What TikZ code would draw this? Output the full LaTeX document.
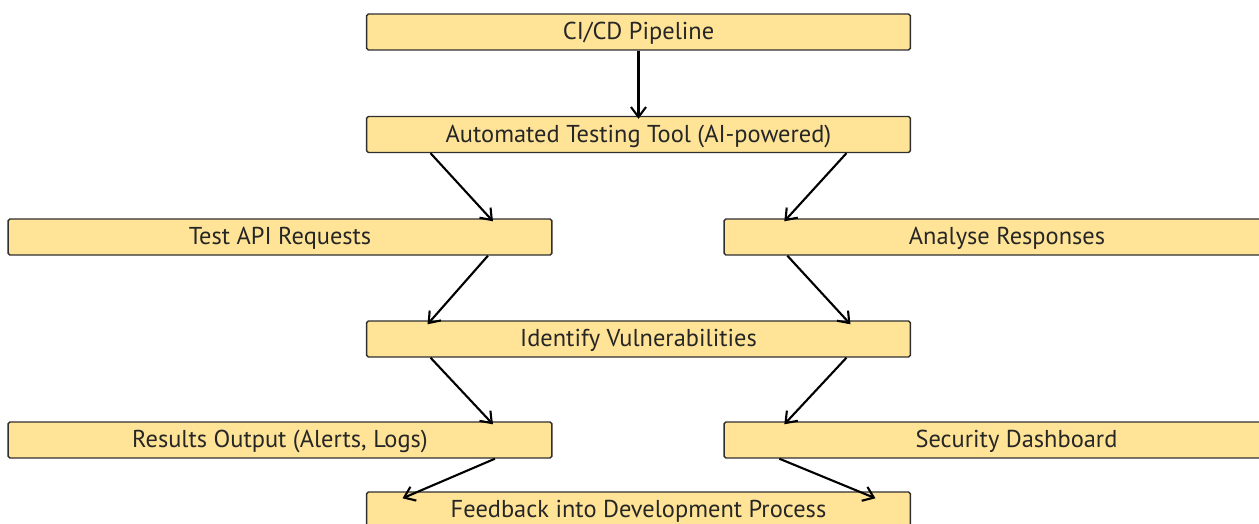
\documentclass[tikz,border=0pt]{standalone}
\usepackage{fontspec}
\setmainfont{PT Sans}
\usetikzlibrary{arrows.meta}

\definecolor{boxfill}{HTML}{FFE497}
\definecolor{boxline}{HTML}{2E2E2E}
\definecolor{boxtext}{HTML}{262626}

\tikzset{
    box/.style={draw=boxline, line width=.8pt, fill=boxfill, rounded corners=1pt,
        minimum width=10.88cm, minimum height=.72cm, inner sep=0pt,
        text height=1.8ex, text depth=0pt,
        text=boxtext, font=\fontsize{13.9}{16}\selectfont},
    arr/.style={-{Straight Barb[length=2mm,width=3mm]}, line width=1.2pt, black}
}

\begin{document}
\begin{tikzpicture}[x=.02cm, y=-.02cm]
    \useasboundingbox (0,0) rectangle (1259,524);
    \node[box] (pipe) at (638.5,32) {CI/CD Pipeline};
    \node[box] (auto) at (638.5,134.5) {Automated Testing Tool (AI-powered)};
    \node[box] (test) at (280,237) {Test API Requests};
    \node[box, minimum width=11.32cm] (ana) at (1007,237) {Analyse Responses};
    \node[box] (ident) at (638.5,339) {Identify Vulnerabilities};
    \node[box] (res) at (280,440) {Results Output (Alerts, Logs)};
    \node[box, minimum width=11.7cm] (sec) at (1016.5,440) {Security Dashboard};
    \node[box] (feed) at (638.5,510) {Feedback into Development Process};
    % connectors
    \draw[arr] (pipe.south) -- ([yshift=-.06cm]auto.north);
    \draw[arr] ([xshift=-4.16cm]auto.south) -- ([xshift=4.26cm,yshift=-.06cm]test.north);
    \draw[arr] ([xshift=4.16cm]auto.south) -- ([xshift=1.22cm,yshift=-.06cm]ana.north west);
    \draw[arr] ([xshift=4.16cm]test.south) -- ([xshift=-4.22cm,yshift=-.08cm]ident.north);
    \draw[arr] ([xshift=1.28cm]ana.south west) -- ([xshift=4.24cm,yshift=-.08cm]ident.north);
    \draw[arr] ([xshift=-4.16cm]ident.south) -- ([xshift=4.26cm,yshift=-.06cm]res.north);
    \draw[arr] ([xshift=4.16cm]ident.south) -- ([xshift=1.22cm,yshift=-.06cm]sec.north west);
    \draw[arr] ([xshift=4.3cm]res.south) -- ([xshift=-4.72cm,yshift=-.14cm]feed.north);
    \draw[arr] ([xshift=1.12cm]sec.south west) -- ([xshift=4.74cm,yshift=-.14cm]feed.north);
\end{tikzpicture}
\end{document}
